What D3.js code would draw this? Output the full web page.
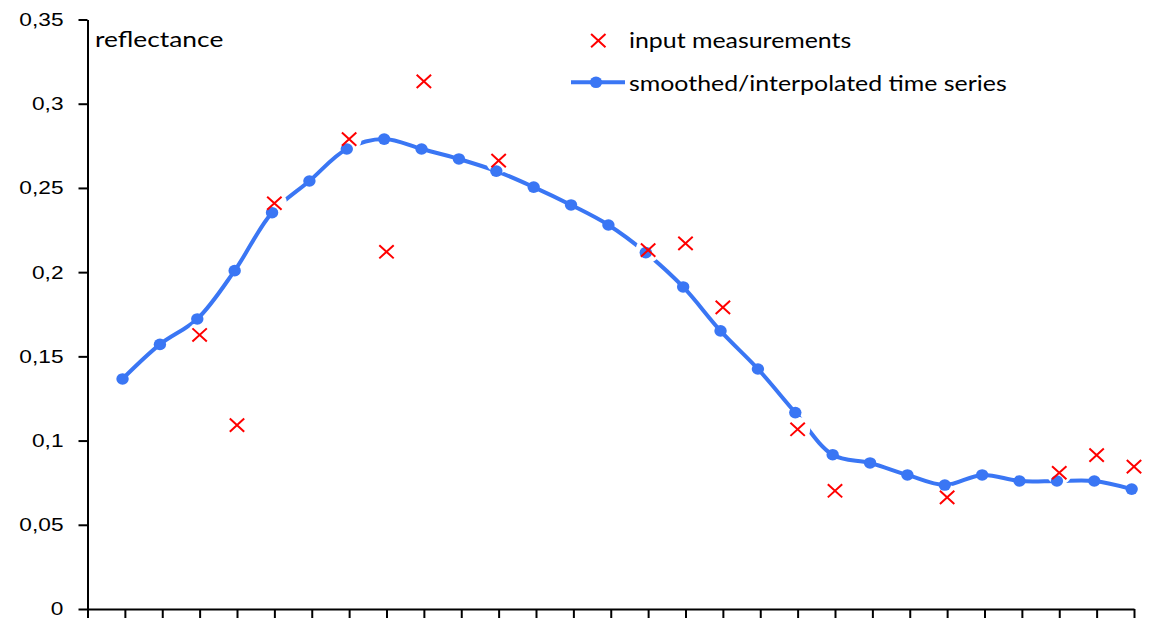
<!DOCTYPE html>
<html>
<head>
<meta charset="utf-8">
<script src="https://cdn.jsdelivr.net/npm/d3@7"></script>
<style>
    body { margin: 0; background: #fff; }
</style>
</head>
<body>
<svg id="chart" width="1149" height="619"></svg>
<script>
// Reflectance time series: raw measurements and the smoothed/interpolated series
// x values are days from the start of the axis (16-day steps)
var inputDays = [48, 64, 80, 112, 128, 144, 176, 240, 256, 272, 304, 320, 368, 416, 432, 448];
var inputValues = [0.1627, 0.1092, 0.2409, 0.2790, 0.2121, 0.3133, 0.2662, 0.2131, 0.2171, 0.1791,
    0.1067, 0.0702, 0.0663, 0.0809, 0.0914, 0.0845];

var smoothDays = [15, 31, 47, 63, 79, 95, 111, 127, 143, 159, 175, 191, 207, 223,
    239, 255, 271, 287, 303, 319, 335, 351, 367, 383, 399, 415, 431, 447];
var smoothValues = [0.1366, 0.1571, 0.1722, 0.2009, 0.2353, 0.2541, 0.2731, 0.2790, 0.2731, 0.2672,
    0.2600, 0.2505, 0.2399, 0.2280, 0.2116, 0.1912, 0.1651, 0.1425, 0.1166, 0.0916,
    0.0867, 0.0796, 0.0736, 0.0796, 0.0760, 0.0760, 0.0760, 0.0712];

var xTicks = [0, 16, 32, 48, 64, 80, 96, 112, 128, 144, 160, 176, 192, 208, 224,
    240, 256, 272, 288, 304, 320, 336, 352, 368, 384, 400, 416, 432, 448];
var yTicks = [0, 0.05, 0.1, 0.15, 0.2, 0.25, 0.3, 0.35];
var yTickLabels = ["0", "0,05", "0,1", "0,15", "0,2", "0,25", "0,3", "0,35"];

var seriesNames = ["input measurements", "smoothed/interpolated time series"];

var blue = "#3a76f4",
    red = "#ff0000";
var stretchX = 1.22; // the original chart is a bit wider than tall, text too

var svg = d3.select("#chart");

var x = d3.scaleLinear().domain([0, 448]).range([87.5, 1134]);
var y = d3.scaleLinear().domain([0, 0.35]).range([609, 19.5]);

// Axes
var yAxis = d3.axisLeft(y)
    .tickValues(yTicks)
    .tickFormat(function (d, i) { return yTickLabels[i]; })
    .tickSize(9)
    .tickSizeOuter(0)
    .tickPadding(15);
var gy = svg.append("g")
    .attr("transform", "translate(" + x(0) + ",0)")
    .call(yAxis)
    .attr("font-family", null)
    .attr("font-size", null);
gy.selectAll("text")
    .attr("x", 0)
    .attr("transform", "translate(-24,0) scale(" + stretchX + ",1)")
    .style("font-family", "'Liberation Sans', Arial, sans-serif")
    .style("font-size", "18.6px")
    .style("fill", "#000");

var xAxis = d3.axisBottom(x)
    .tickValues(xTicks)
    .tickFormat("")
    .tickSize(9)
    .tickSizeOuter(0);
svg.append("g")
    .attr("transform", "translate(0," + y(0) + ")")
    .call(xAxis);

svg.selectAll(".domain, .tick line")
    .attr("stroke", "#000")
    .attr("stroke-width", 2);

function wideText(px, py, size, str) {
    return svg.append("text")
        .attr("transform", "translate(" + px + "," + py + ") scale(" + stretchX + ",1)")
        .style("font-family", "Lato, 'Open Sans', sans-serif")
        .style("font-size", size + "px")
        .style("fill", "#000")
        .text(str);
}

wideText(95, 46.7, 21.6, "reflectance");

// Smoothed line
var smoothData = smoothDays.map(function (d, i) { return { day: d, value: smoothValues[i] }; });
var inputData = inputDays.map(function (d, i) { return { day: d, value: inputValues[i] }; });

var line = d3.line()
    .x(function (d) { return x(d.day); })
    .y(function (d) { return y(d.value); })
    .curve(d3.curveCatmullRom.alpha(0.5));

svg.append("path")
    .datum(smoothData)
    .attr("d", line)
    .attr("fill", "none")
    .attr("stroke", blue)
    .attr("stroke-width", 4)
    .attr("stroke-linejoin", "round");

// white background behind each cross cuts the line
svg.selectAll(".halo")
    .data(inputData)
    .enter()
    .append("circle")
    .attr("cx", function (d) { return x(d.day); })
    .attr("cy", function (d) { return y(d.value); })
    .attr("r", 12.5)
    .attr("fill", "#fff");

svg.selectAll(".dot")
    .data(smoothData)
    .enter()
    .append("ellipse")
    .attr("cx", function (d) { return x(d.day); })
    .attr("cy", function (d) { return y(d.value); })
    .attr("rx", 6.2)
    .attr("ry", 5.8)
    .attr("fill", blue);

function drawCross(g, cx, cy) {
    var sx = 7.2, sy = 6.6;
    g.append("path")
        .attr("d", "M" + (cx - sx) + "," + (cy - sy) + "L" + (cx + sx) + "," + (cy + sy) +
            "M" + (cx - sx) + "," + (cy + sy) + "L" + (cx + sx) + "," + (cy - sy))
        .attr("stroke", red)
        .attr("stroke-width", 2)
        .attr("fill", "none");
}

var crosses = svg.append("g");
inputData.forEach(function (d) {
    drawCross(crosses, x(d.day), y(d.value));
});

// Legend
var legend = svg.append("g");
drawCross(legend, 598.3, 40.7);
wideText(629, 48.3, 20.4, seriesNames[0]);

legend.append("line")
    .attr("x1", 571).attr("x2", 625)
    .attr("y1", 82.3).attr("y2", 82.3)
    .attr("stroke", blue)
    .attr("stroke-width", 4);
legend.append("ellipse")
    .attr("cx", 596).attr("cy", 82.3)
    .attr("rx", 6.2).attr("ry", 5.8)
    .attr("fill", blue);
wideText(629, 90.7, 20.4, seriesNames[1]);
</script>
</body>
</html>
